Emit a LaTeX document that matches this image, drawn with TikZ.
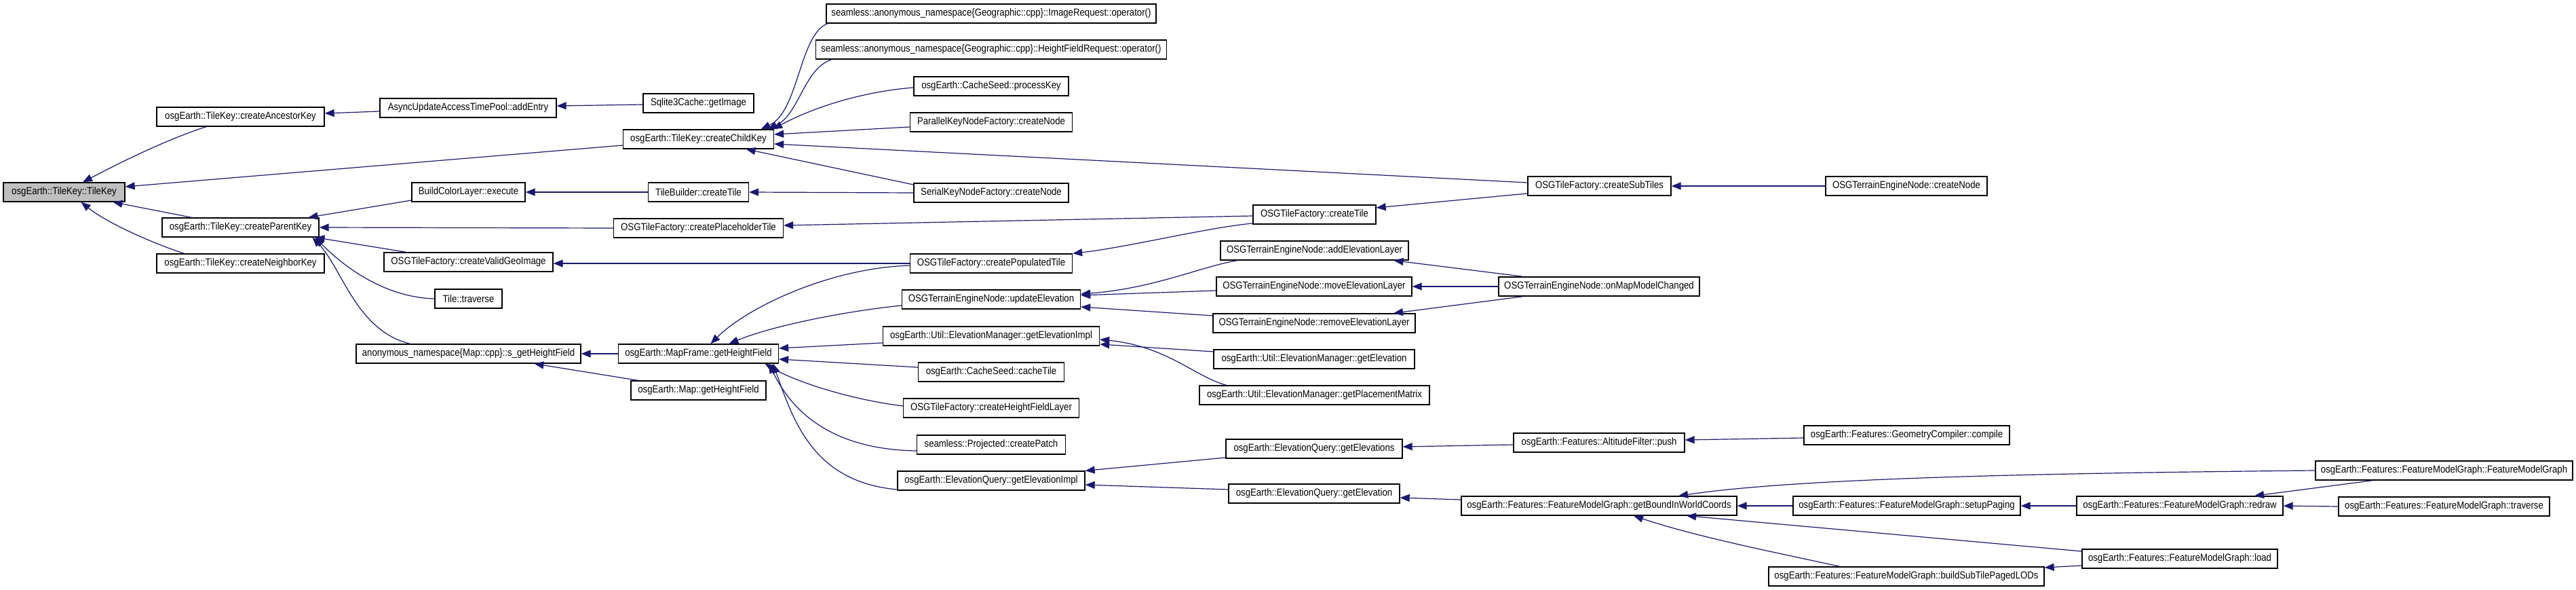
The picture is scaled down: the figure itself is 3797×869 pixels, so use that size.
\documentclass[tikz,border=0pt]{standalone}
\usepackage{fontspec}
\setmainfont[FakeStretch=0.88]{Liberation Sans}
\usetikzlibrary{arrows.meta}
\definecolor{edgeblue}{HTML}{191970}
\definecolor{rootgray}{HTML}{BFBFBF}
\tikzset{
  fn/.style={draw=black, line width=1.3pt, fill=white, minimum height=28pt, inner sep=0pt, font=\fontsize{15}{15}\selectfont},
  rootfn/.style={fn, fill=rootgray},
  call/.style={draw=edgeblue, line width=1.2pt, -{Triangle[length=14pt,width=11pt]}},
}
\begin{document}
\begin{tikzpicture}[x=1pt,y=1pt]
\fill[white] (0,0) rectangle (3797,-869);
\useasboundingbox (0,0) rectangle (3797,-869);
% column 1
\node[rootfn, minimum width=179pt] (TK) at (94.5,-283) {osgEarth::TileKey::TileKey};
% column 2
\node[fn, minimum width=247pt] (CAK) at (354.5,-172) {osgEarth::TileKey::createAncestorKey};
\node[fn, minimum width=231pt] (CPK) at (354.5,-335) {osgEarth::TileKey::createParentKey};
\node[fn, minimum width=247pt] (CNK) at (354.5,-388) {osgEarth::TileKey::createNeighborKey};
% column 3
\node[fn, minimum width=260pt] (AE) at (690,-159) {AsyncUpdateAccessTimePool::addEntry};
\node[fn, minimum width=167pt] (BCL) at (690.5,-283) {BuildColorLayer::execute};
\node[fn, minimum width=249pt] (VGI) at (690.5,-386) {OSGTileFactory::createValidGeoImage};
\node[fn, minimum width=99pt] (TT) at (690.5,-440) {Tile::traverse};
\node[fn, minimum width=331pt] (SHF) at (690.5,-521) {anonymous\_namespace\{Map::cpp\}::s\_getHeightField};
% column 4
\node[fn, minimum width=163pt] (SQ) at (1029.5,-152) {Sqlite3Cache::getImage};
\node[fn, minimum width=222pt] (CCK) at (1029.5,-205) {osgEarth::TileKey::createChildKey};
\node[fn, minimum width=148pt] (TB) at (1029.5,-283) {TileBuilder::createTile};
\node[fn, minimum width=250pt] (PH) at (1029.5,-336) {OSGTileFactory::createPlaceholderTile};
\node[fn, minimum width=236pt] (MF) at (1029.5,-521) {osgEarth::MapFrame::getHeightField};
\node[fn, minimum width=199pt] (MGH) at (1029.5,-575) {osgEarth::Map::getHeightField};
% column 5
\node[fn, minimum width=486pt] (IR) at (1461,-20) {seamless::anonymous\_namespace\{Geographic::cpp\}::ImageRequest::operator()};
\node[fn, minimum width=517pt] (HFR) at (1461,-73) {seamless::anonymous\_namespace\{Geographic::cpp\}::HeightFieldRequest::operator()};
\node[fn, minimum width=228pt] (PK) at (1461,-127) {osgEarth::CacheSeed::processKey};
\node[fn, minimum width=239pt] (PKN) at (1461,-180) {ParallelKeyNodeFactory::createNode};
\node[fn, minimum width=228pt] (SKN) at (1461,-284) {SerialKeyNodeFactory::createNode};
\node[fn, minimum width=239pt] (PT) at (1461,-388) {OSGTileFactory::createPopulatedTile};
\node[fn, minimum width=263pt] (UE) at (1461,-441) {OSGTerrainEngineNode::updateElevation};
\node[fn, minimum width=319pt] (EMI) at (1461,-495) {osgEarth::Util::ElevationManager::getElevationImpl};
\node[fn, minimum width=215pt] (CT) at (1461,-548) {osgEarth::CacheSeed::cacheTile};
\node[fn, minimum width=259pt] (HFL) at (1461,-601) {OSGTileFactory::createHeightFieldLayer};
\node[fn, minimum width=219pt] (CP) at (1461,-655) {seamless::Projected::createPatch};
\node[fn, minimum width=276pt] (EQI) at (1461,-708) {osgEarth::ElevationQuery::getElevationImpl};
% column 6
\node[fn, minimum width=181pt] (TF) at (1937.5,-316) {OSGTileFactory::createTile};
\node[fn, minimum width=277pt] (AEL) at (1937.5,-369) {OSGTerrainEngineNode::addElevationLayer};
\node[fn, minimum width=288pt] (MEL) at (1937,-422) {OSGTerrainEngineNode::moveElevationLayer};
\node[fn, minimum width=298pt] (REL) at (1937,-476) {OSGTerrainEngineNode::removeElevationLayer};
\node[fn, minimum width=296pt] (EMG) at (1937,-529) {osgEarth::Util::ElevationManager::getElevation};
\node[fn, minimum width=339pt] (EMP) at (1937.5,-582) {osgEarth::Util::ElevationManager::getPlacementMatrix};
\node[fn, minimum width=260pt] (EQS) at (1937,-661) {osgEarth::ElevationQuery::getElevations};
\node[fn, minimum width=252pt] (EQG) at (1937,-727) {osgEarth::ElevationQuery::getElevation};
% column 7
\node[fn, minimum width=211pt] (CST) at (2357.5,-274) {OSGTileFactory::createSubTiles};
\node[fn, minimum width=296pt] (OMC) at (2357,-422) {OSGTerrainEngineNode::onMapModelChanged};
\node[fn, minimum width=252pt] (AFP) at (2357,-652) {osgEarth::Features::AltitudeFilter::push};
\node[fn, minimum width=406pt] (GBW) at (2357,-745) {osgEarth::Features::FeatureModelGraph::getBoundInWorldCoords};
% column 8
\node[fn, minimum width=238pt] (TCN) at (2810,-274) {OSGTerrainEngineNode::createNode};
\node[fn, minimum width=303pt] (GCC) at (2810.5,-641) {osgEarth::Features::GeometryCompiler::compile};
\node[fn, minimum width=335pt] (SP) at (2810.5,-745) {osgEarth::Features::FeatureModelGraph::setupPaging};
\node[fn, minimum width=406pt] (BSL) at (2810,-849) {osgEarth::Features::FeatureModelGraph::buildSubTilePagedLODs};
% column 9
\node[fn, minimum width=304pt] (RD) at (3213,-745) {osgEarth::Features::FeatureModelGraph::redraw};
\node[fn, minimum width=288pt] (LD) at (3213,-823) {osgEarth::Features::FeatureModelGraph::load};
% column 10
\node[fn, minimum width=379pt] (FMG) at (3602.5,-693) {osgEarth::Features::FeatureModelGraph::FeatureModelGraph};
\node[fn, minimum width=311pt] (TRV) at (3602.5,-746) {osgEarth::Features::FeatureModelGraph::traverse};

% edges into TileKey
\draw[call] ([xshift=-50.5pt]CAK.south) .. controls +(-44,-14) and +(78,41) .. ([xshift=27.5pt]TK.north);
\draw[call] ([yshift=-9pt]CCK.west) -- ([yshift=8pt]TK.east);
\draw[call] ([xshift=-72pt]CPK.north) -- ([xshift=72pt]TK.south);
\draw[call] ([xshift=-83pt]CNK.north) .. controls +(-41,13) and +(40,-32) .. ([xshift=25pt]TK.south);
% ancestor key
\draw[call] ([yshift=-5pt]AE.west) -- ([yshift=5pt]CAK.east);
\draw[call] ([yshift=-2pt]SQ.west) -- ([yshift=3pt]AE.east);
% child key
\draw[call] ([xshift=-241pt]IR.south) .. controls +(-42,-16) and +(56,26) .. ([xshift=92pt]CCK.north);
\draw[call] ([xshift=-235pt]HFR.south) .. controls +(-41,-13) and +(46,21) .. ([xshift=102pt]CCK.north);
\draw[call] ([yshift=-2pt]PK.west) .. controls +(-77,-6) and +(57,31) .. ([xshift=-2pt]CCK.north east);
\draw[call] ([yshift=-7pt]PKN.west) -- ([yshift=7pt]CCK.east);
\draw[call] ([yshift=5pt]CST.west) -- ([yshift=-7pt]CCK.east);
\draw[call] ([yshift=12pt]SKN.west) -- ([xshift=70pt]CCK.south);
% parent key
\draw[call] ([yshift=-12pt]BCL.west) -- ([xshift=100pt]CPK.north);
\draw[call] (PH.west) -- (CPK.east);
\draw[call] ([xshift=-92pt]VGI.north) -- ([xshift=110pt]CPK.south);
\draw[call] (TT.west) .. controls +(-71,2) and +(45,-46) .. ([xshift=110pt]CPK.south);
\draw[call] ([xshift=-86pt]SHF.north) .. controls +(-79,19) and +(44,-46) .. ([xshift=106pt]CPK.south);
% tiles
\draw[call] (TB.west) -- (BCL.east);
\draw[call] (SKN.west) -- (TB.east);
\draw[call] ([yshift=-2pt]TF.west) -- ([yshift=4pt]PH.east);
\draw[call] (PT.west) -- ([yshift=-2pt]VGI.east);
\draw[call] ([yshift=-13pt]TF.west) .. controls +(-66,-6) and +(80,9) .. (PT.north east);
\draw[call] ([yshift=-11pt]CST.west) -- ([yshift=10pt]TF.east);
\draw[call] (TCN.west) -- (CST.east);
% height field
\draw[call] (MF.west) -- (SHF.east);
\draw[call] ([xshift=-89pt]MGH.north) -- ([xshift=97pt]SHF.south);
\draw[call] ([yshift=-3pt]PT.west) .. controls +(-121,-4) and +(52,52) .. ([xshift=18pt]MF.north);
\draw[call] ([yshift=-9pt]UE.west) .. controls +(-80,-8) and +(65,27) .. ([xshift=45pt]MF.north);
\draw[call] ([yshift=-10pt]EMI.west) -- ([yshift=8pt]MF.east);
\draw[call] ([yshift=7pt]CT.west) -- ([yshift=-8pt]MF.east);
\draw[call] ([yshift=3pt]HFL.west) .. controls +(-81,10) and +(42,-25) .. ([xshift=98pt]MF.south);
\draw[call] ([yshift=-9pt]CP.west) .. controls +(-131,2) and +(31,-65) .. ([xshift=104pt]MF.south);
\draw[call] ([yshift=-13pt]EQI.west) .. controls +(-123,11) and +(30,-85) .. ([xshift=110pt]MF.south);
% elevation layers
\draw[call] ([xshift=-114pt]AEL.south) .. controls +(-53,-9) and +(107,8) .. ([yshift=8pt]UE.east);
\draw[call] ([yshift=-6pt]MEL.west) -- ([yshift=6pt]UE.east);
\draw[call] ([yshift=11pt]REL.west) -- ([yshift=-11pt]UE.east);
\draw[call] ([xshift=-112pt]OMC.north) -- ([xshift=117pt]AEL.south);
\draw[call] (OMC.west) -- (MEL.east);
\draw[call] ([xshift=-112pt]OMC.south) -- ([xshift=117pt]REL.north);
% elevation manager
\draw[call] ([yshift=11pt]EMG.west) -- ([yshift=-12pt]EMI.east);
\draw[call] ([xshift=-130pt]EMP.north) .. controls +(-47,13) and +(99,-10) .. ([yshift=-5pt]EMI.east);
% elevation query
\draw[call] ([yshift=-13pt]EQS.west) -- (EQI.north east);
\draw[call] ([yshift=6pt]EQG.west) -- ([yshift=-6pt]EQI.east);
\draw[call] ([yshift=-3pt]AFP.west) -- ([yshift=3pt]EQS.east);
\draw[call] ([yshift=-4pt]GCC.west) -- ([yshift=4pt]AFP.east);
\draw[call] ([yshift=9pt]GBW.west) -- ([yshift=-6pt]EQG.east);
% feature model graph
\draw[call] (FMG.west) .. controls +(-413,-4) and +(176,26) .. ([xshift=117pt]GBW.north);
\draw[call] (SP.west) -- (GBW.east);
\draw[call] ([yshift=11pt]LD.west) -- ([xshift=129pt]GBW.south);
\draw[call] ([xshift=-98pt]BSL.north) .. controls +(-92,20) and +(92,-31) .. ([xshift=51pt]GBW.south);
\draw[call] (RD.west) -- (SP.east);
\draw[call] ([xshift=-105pt]FMG.south) -- ([xshift=110pt]RD.north);
\draw[call] (TRV.west) -- (RD.east);
\draw[call] ([yshift=-10pt]LD.west) -- ([yshift=13pt]BSL.east);
\end{tikzpicture}
\end{document}
